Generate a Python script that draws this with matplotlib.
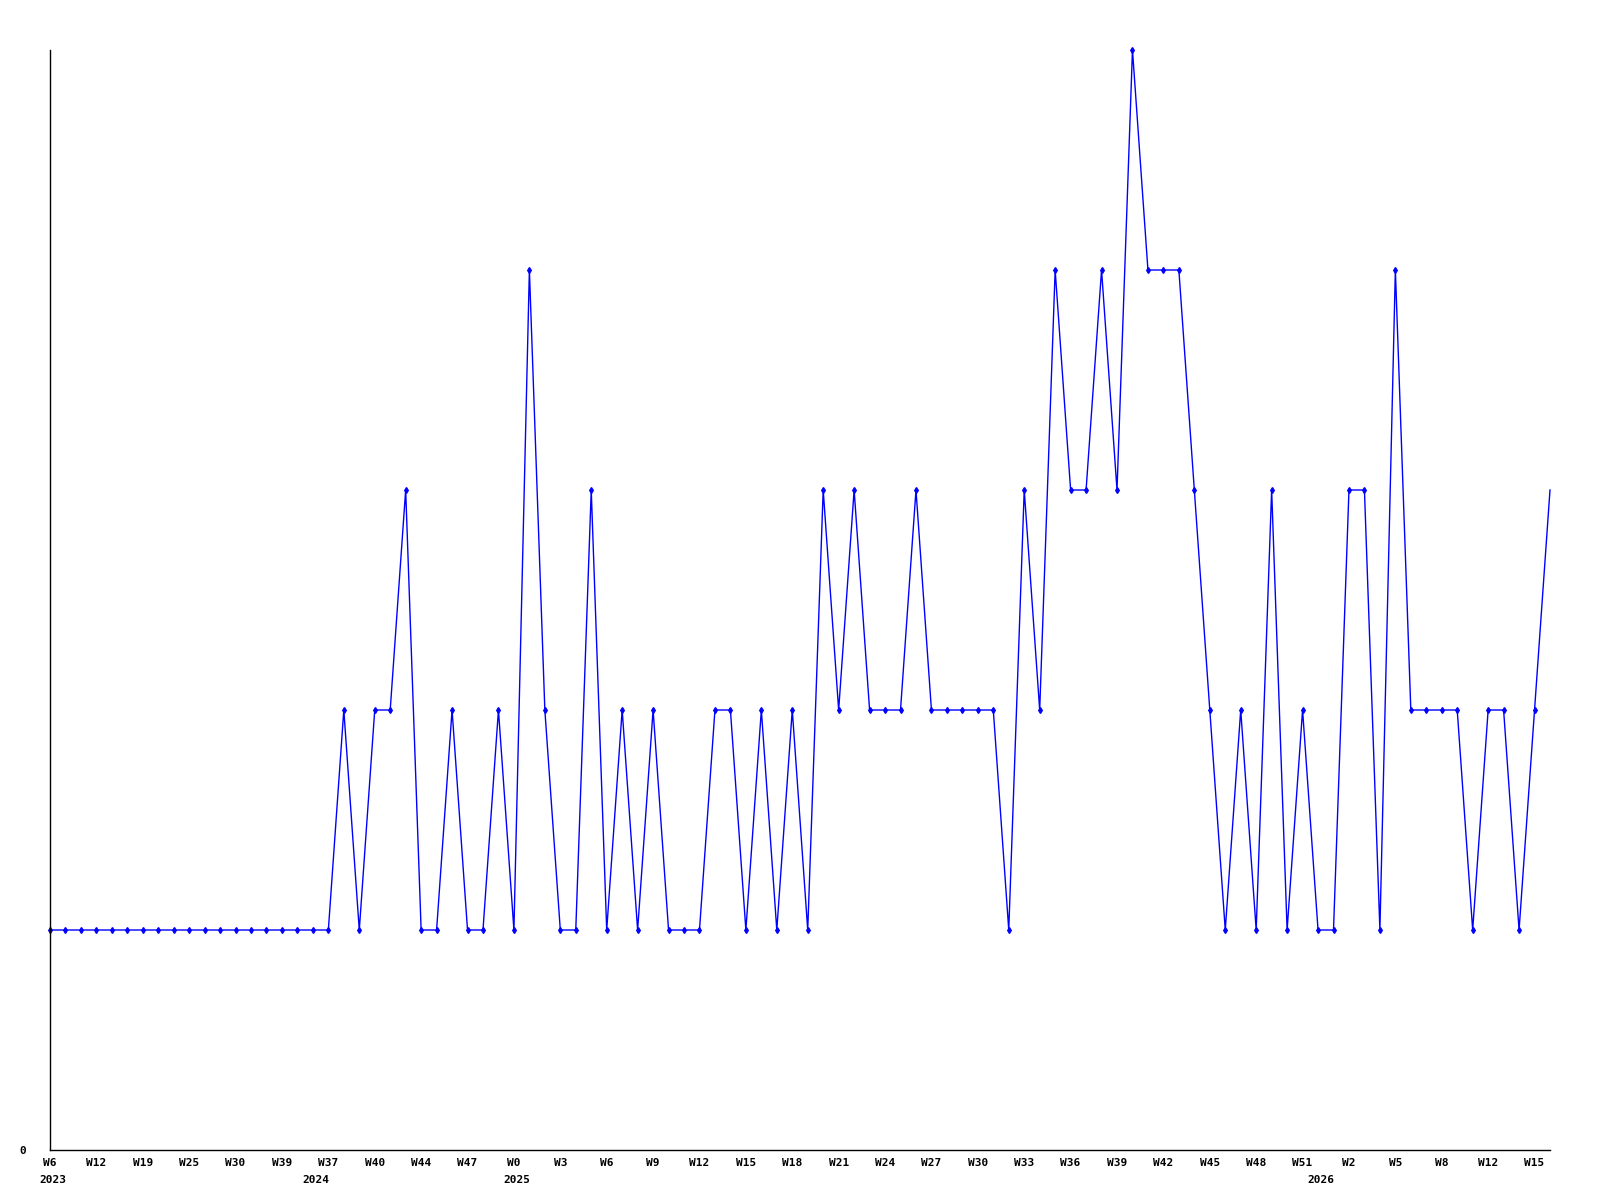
import matplotlib
matplotlib.use("Agg")
import matplotlib.pyplot as plt
import numpy as np

# weekly values
values = [1] * 19 + [
    2, 1, 2, 2, 3, 1, 1, 2, 1, 1,
    2, 1, 4, 2, 1, 1, 3, 1, 2, 1,
    2, 1, 1, 1, 2, 2, 1, 2, 1, 2,
    1, 3, 2, 3, 2, 2, 2, 3, 2, 2,
    2, 2, 2, 1, 3, 2, 4, 3, 3, 4,
    3, 5, 4, 4, 4, 3, 2, 1, 2, 1,
    3, 1, 2, 1, 1, 3, 3, 1, 4, 2,
    2, 2, 2, 1, 2, 2, 1, 2, 3,
]
week_labels = ["W6", "W12", "W19", "W25", "W30", "W39", "W37", "W40", "W44",
               "W47", "W0", "W3", "W6", "W9", "W12", "W15", "W18", "W21",
               "W24", "W27", "W30", "W33", "W36", "W39", "W42", "W45", "W48",
               "W51", "W2", "W5", "W8", "W12", "W15"]
label_step = 3
years = ["2023", "2024", "2025", "2026"]
year_pos = [0, 17, 30, 82]

x = np.arange(len(values))

fig = plt.figure(figsize=(16, 12), dpi=100)
ax = fig.add_axes([50 / 1600, 50 / 1200, 1500 / 1600, 1100 / 1200])

ax.plot(x, values, color="#0000ff", lw=1.0, marker="d", ms=3,
        markevery=list(range(len(values) - 1)), clip_on=False)

ax.set_xlim(0, len(values) - 1)
ax.set_ylim(0, 5)
for s in ["top", "right"]:
    ax.spines[s].set_visible(False)
for s in ["left", "bottom"]:
    ax.spines[s].set_linewidth(1.0)
    ax.spines[s].set_color("black")

font = dict(family="DejaVu Sans Mono", weight="bold", size=8)
ax.set_xticks(x[::label_step])
ax.set_xticklabels(week_labels, **font)
ax.tick_params(axis="x", length=0, pad=6)
ax.set_yticks([0])
ax.set_yticklabels(["0"], **font)
ax.tick_params(axis="y", length=0, pad=17)

for yr, p in zip(years, year_pos):
    ax.annotate(yr, xy=(p + 0.2, 0), xycoords=("data", "axes fraction"),
                xytext=(0, -18), textcoords="offset points",
                ha="center", va="top", **font)

fig.savefig("out.png", dpi=100, facecolor="white")
